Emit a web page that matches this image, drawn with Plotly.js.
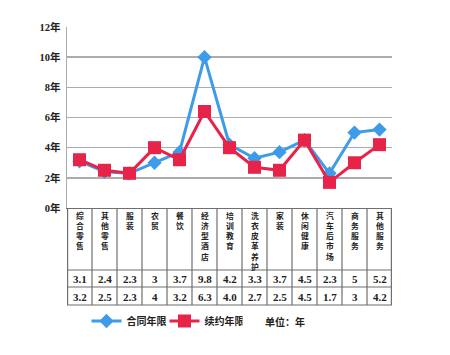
<!DOCTYPE html>
<html>
<head>
<meta charset="utf-8">
<script src="https://cdn.plot.ly/plotly-3.0.1.min.js"></script>
<style>html,body{margin:0;padding:0;background:#fff;}#chart{width:450px;height:355px;}</style>
</head>
<body>
<div id="chart"></div>
<script>
// ---- data ----
var categories = ['综合零售','其他零售','服装','农贸','餐饮','经济型酒店','培训教育','洗衣皮革养护','家装','休闲健康','汽车后市场','商务服务','其他服务'];
var contractYears = [3.1, 2.4, 2.3, 3, 3.7, 10, 4.2, 3.3, 3.7, 4.5, 2.3, 5, 5.2];
var renewalYears  = [3.2, 2.5, 2.3, 4, 3.2, 6.4, 4.0, 2.7, 2.5, 4.5, 1.7, 3, 4.2];
var contractTable = ['3.1','2.4','2.3','3','3.7','9.8','4.2','3.3','3.7','4.5','2.3','5','5.2'];
var renewalTable  = ['3.2','2.5','2.3','4','3.2','6.3','4.0','2.7','2.5','4.5','1.7','3','4.2'];
var yTickVals = [0, 2, 4, 6, 8, 10, 12];
var yTickText = ['0年','2年','4年','6年','8年','10年','12年'];
var seriesNames = ['合同年限','续约年限'];
var unitLabel = '单位：年';

// ---- layout helpers ----
var W = 450, H = 355;
var mT = 27, mB = 147, mL = 67, mR = 58;
var plotH = H - mT - mB;
function py(pixel){ return (H - mB - pixel) / plotH; } // pixel row -> paper y

var idx = categories.map(function(_, i){ return i; });
var blue = '#3d9be9', red = '#e8234a';
var cjk = 'Noto Sans CJK SC, Noto Sans, sans-serif';
var serif = 'Liberation Serif, DejaVu Serif, serif';
var tableLine = '#6f6f6f';

var traces = [
  {x: idx, y: contractYears, name: seriesNames[0], type: 'scatter', mode: 'lines+markers',
   line: {color: blue, width: 3}, marker: {symbol: 'diamond', size: 11, color: blue}},
  {x: idx, y: renewalYears, name: seriesNames[1], type: 'scatter', mode: 'lines+markers',
   line: {color: red, width: 3}, marker: {symbol: 'square', size: 13, color: red}}
];

var rowHeaderBottom = 270, row1Bottom = 287, row2Bottom = 305;
var shapes = [];
var annotations = [];
[rowHeaderBottom, row1Bottom, row2Bottom].forEach(function(p){
  shapes.push({type: 'line', xref: 'x', yref: 'paper', x0: -0.5, x1: categories.length - 0.5,
    y0: py(p), y1: py(p), line: {color: tableLine, width: 1.2}});
});
for (var i = 0; i <= categories.length; i++) {
  shapes.push({type: 'line', xref: 'x', yref: 'paper', x0: i - 0.5, x1: i - 0.5,
    y0: 0, y1: py(row2Bottom), line: {color: tableLine, width: (i === 0 || i === categories.length) ? 2.4 : 1.2}});
}
categories.forEach(function(cat, i){
  annotations.push({xref: 'x', yref: 'paper', x: i, y: py(208.5), text: cat.split('').join('<br>'),
    showarrow: false, xanchor: 'center', yanchor: 'top', align: 'center', borderpad: 0,
    font: {family: cjk, size: 7.8, color: '#222', weight: 'bold'}});
  annotations.push({xref: 'x', yref: 'paper', x: i, y: py((rowHeaderBottom + row1Bottom) / 2 + 0.5), text: contractTable[i],
    showarrow: false, xanchor: 'center', yanchor: 'middle',
    font: {family: serif, size: 11, color: '#222', weight: 'bold'}});
  annotations.push({xref: 'x', yref: 'paper', x: i, y: py((row1Bottom + row2Bottom) / 2 + 0.5), text: renewalTable[i],
    showarrow: false, xanchor: 'center', yanchor: 'middle',
    font: {family: serif, size: 11, color: '#222', weight: 'bold'}});
});
annotations.push({xref: 'paper', yref: 'paper', x: (263 - mL) / (W - mL - mR), y: py(321), text: unitLabel,
  showarrow: false, xanchor: 'left', yanchor: 'middle',
  font: {family: cjk, size: 10, color: '#222', weight: 'bold'}});

var layout = {
  width: W, height: H,
  margin: {l: mL, r: mR, t: mT, b: mB, pad: 0},
  paper_bgcolor: '#fff', plot_bgcolor: '#fff',
  showlegend: true,
  legend: {orientation: 'h', x: 0.06, y: py(321), xanchor: 'left', yanchor: 'middle',
    font: {family: cjk, size: 10, color: '#222', weight: 'bold'}, bgcolor: 'rgba(0,0,0,0)',
    itemwidth: 30, entrywidth: 33, entrywidthmode: 'pixels'},
  xaxis: {range: [-0.5, categories.length - 0.5], showticklabels: false, ticks: '', showgrid: false,
    zeroline: false, showline: true, linecolor: tableLine, linewidth: 1.2, fixedrange: true},
  yaxis: {range: [0, 12], tickvals: yTickVals, ticktext: yTickText, ticks: '', showgrid: true,
    gridcolor: '#acacac', gridwidth: 1.5, zeroline: false, showline: true, linecolor: '#acacac', linewidth: 1.5,
    tickfont: {family: 'Liberation Serif, Noto Sans CJK SC, serif', size: 10.5, color: '#222', weight: 'bold'},
    ticklabelstandoff: 3, fixedrange: true},
  shapes: shapes,
  annotations: annotations
};

Plotly.newPlot('chart', traces, layout, {displayModeBar: false, staticPlot: true});
</script>
</body>
</html>
